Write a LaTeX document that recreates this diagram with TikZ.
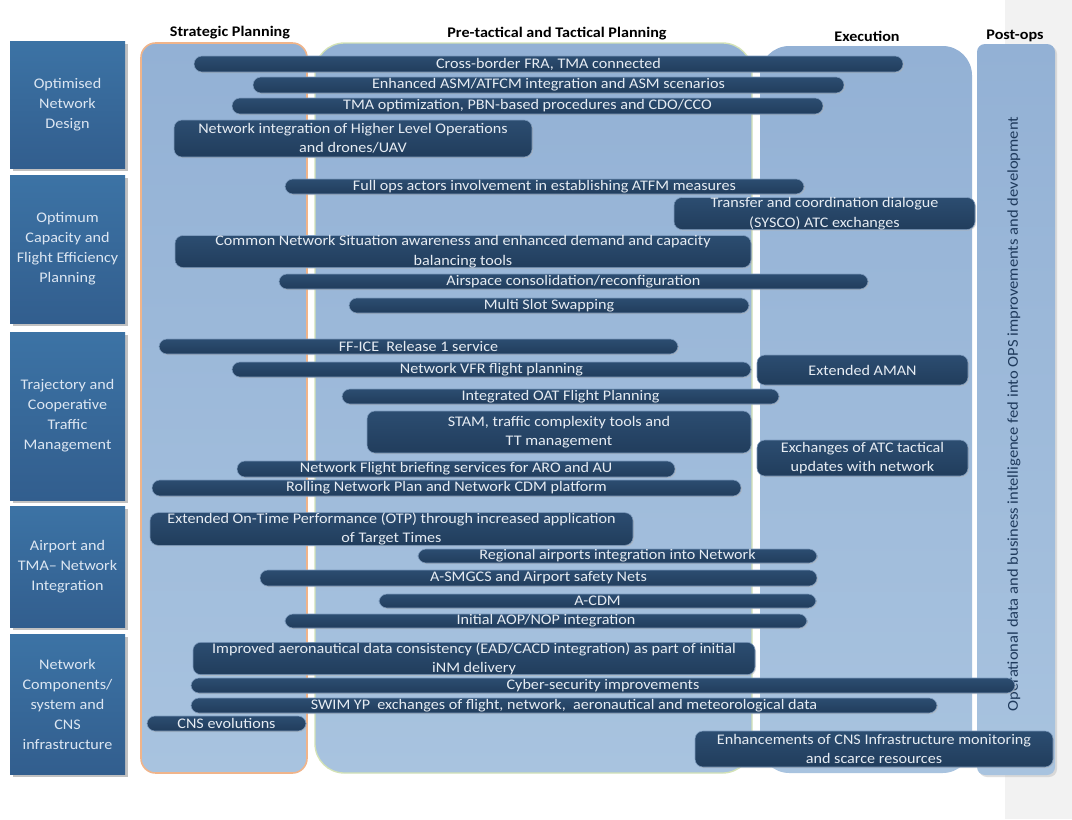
\documentclass[tikz,border=0pt]{standalone}
\usepackage{fontspec}
\setmainfont{Carlito}[FakeStretch=1.1]
\usetikzlibrary{shadows}
\definecolor{panelT}{HTML}{93B1D5}
\definecolor{panelB}{HTML}{A8C3DF}
\definecolor{navyT}{HTML}{2C4D71}
\definecolor{navyB}{HTML}{213D5C}
\definecolor{catT}{HTML}{3C73A5}
\definecolor{catB}{HTML}{325E8E}
\definecolor{cattext}{HTML}{DCE6F2}
\definecolor{bartext}{HTML}{E6ECF3}
\definecolor{barline}{HTML}{7D9BBE}
\definecolor{orangeb}{HTML}{F0B48A}
\definecolor{greenb}{HTML}{D3E2B6}
\definecolor{grayband}{HTML}{F2F2F2}
\definecolor{vtext}{HTML}{1F3A5C}
\newcommand\mybar[6]{\node[barbox,minimum width={0.75pt*(#3-#2)},minimum height={0.75pt*(#5-#4)}] (#1) at ({(#2+#3)/2},{(#4+#5)/2}) {#6};}
\tikzset{
  panel/.style={top color=panelT,bottom color=panelB,inner sep=0pt},
  catbox/.style={top color=catT,bottom color=catB,text=cattext,align=center,inner sep=0pt,
    minimum width=86.25pt,font=\fontsize{11}{15}\selectfont,
    drop shadow={shadow xshift=2pt,shadow yshift=-2pt,fill=black!40,opacity=0.6}},
  barbox/.style={rounded corners=6pt,top color=navyT,bottom color=navyB,draw=barline,line width=0.4pt,
    text=bartext,align=center,inner sep=0pt,font=\fontsize{11}{14.5}\selectfont,
    drop shadow={shadow xshift=0.8pt,shadow yshift=-0.8pt,fill=black!30,opacity=0.5}},
  hdr/.style={font=\bfseries\fontsize{11}{12}\selectfont,text=black,inner sep=0pt}
}
\begin{document}
\begin{tikzpicture}[x=0.75pt,y=-0.75pt]
\useasboundingbox (0,0) rectangle (1072,819);
\fill[white] (0,0) rectangle (1072,819);
\fill[grayband] (1005,0) rectangle (1072,819);
% headers
\node[hdr] (h1) at (230,33) {Strategic Planning};
\node[hdr] (h2) at (557,34) {Pre-tactical and Tactical Planning};
\node[hdr] (h3) at (867,36) {Execution};
\node[hdr] (h4) at (1015,36) {Post-ops};
% panels
\node[panel,draw=orangeb,line width=1.2pt,rounded corners=11pt,minimum width={0.75pt*166},minimum height={0.75pt*730}] (sp) at (224,408) {};
\node[panel,draw=greenb,line width=1pt,rounded corners=22pt,minimum width={0.75pt*437},minimum height={0.75pt*730}] (pt) at (533.5,408) {};
\node[panel,rounded corners=22pt,minimum width={0.75pt*212},minimum height={0.75pt*727}] (ex) at (866,409.5) {};
\node[panel,rounded corners=6pt,minimum width={0.75pt*78},minimum height={0.75pt*731},
  drop shadow={shadow xshift=1.5pt,shadow yshift=-1.5pt,fill=black!25,opacity=0.5}] (po) at (1016,409.5) {};
\node[rotate=90,text=vtext,font=\fontsize{11.3}{13}\selectfont,inner sep=0pt] (vt) at (1014,414)
  {Operational data and business intelligence fed into OPS improvements and development};
% category boxes
\node[catbox,minimum height={0.75pt*127}] (c1) at (67.5,104.5) {Optimised\\Network\\Design};
\node[catbox,minimum height={0.75pt*148}] (c2) at (67.5,249) {Optimum\\Capacity and\\Flight Efficiency\\Planning};
\node[catbox,minimum height={0.75pt*168}] (c3) at (67.5,416) {Trajectory and\\Cooperative\\Traffic\\Management};
\node[catbox,minimum height={0.75pt*121}] (c4) at (67.5,567) {Airport and\\TMA-- Network\\Integration};
\node[catbox,minimum height={0.75pt*140}] (c5) at (67.5,704.5) {Network\\Components/\\system and\\CNS\\infrastructure};
% bars
\mybar{b1}{194}{903}{56}{72}{Cross-border FRA, TMA connected}
\mybar{b2}{253}{844}{77}{93}{Enhanced ASM/ATFCM integration and ASM scenarios}
\mybar{b3}{232}{823}{98}{114}{TMA optimization, PBN-based procedures and CDO/CCO}
\mybar{b4}{174}{532}{120}{157}{Network integration of Higher Level Operations\\and drones/UAV}
\mybar{b5}{285}{804}{179}{194}{Full ops actors involvement in establishing ATFM measures}
\mybar{b6}{674}{975}{198}{229}{Transfer and coordination dialogue\\(SYSCO) ATC exchanges}
\mybar{b7}{175}{751}{236}{267}{Common Network Situation awareness and enhanced demand and capacity\\balancing tools}
\mybar{b8}{279}{868}{274}{289}{Airspace consolidation/reconfiguration}
\mybar{b9}{349}{749}{298}{313}{Multi Slot Swapping}
\mybar{b10}{159}{678}{339}{354}{FF-ICE\ \ Release 1 service}
\mybar{b11}{232}{751}{362}{377}{Network VFR flight planning}
\mybar{b12}{757}{968}{355}{385}{Extended AMAN}
\mybar{b13}{342}{779}{389}{404}{Integrated OAT Flight Planning}
\mybar{b14}{367}{751}{411}{453}{STAM, traffic complexity tools and\\TT management}
\mybar{b15}{757}{968}{440}{476}{Exchanges of ATC tactical\\updates with network}
\mybar{b16}{237}{675}{461}{477}{Network Flight briefing services for ARO and AU}
\mybar{b17}{152}{741}{480}{496}{Rolling Network Plan and Network CDM platform}
\mybar{b18}{150}{633}{513}{545}{Extended On-Time Performance (OTP) through increased application\\of Target Times}
\mybar{b19}{418}{817}{549}{563}{Regional airports integration into Network}
\mybar{b20}{260}{817}{570}{586}{A-SMGCS and Airport safety Nets}
\mybar{b21}{379}{816}{594}{608}{A-CDM}
\mybar{b22}{285}{807}{614}{628}{Initial AOP/NOP integration}
\mybar{b23}{193}{755}{644}{673}{Improved aeronautical data consistency (EAD/CACD integration) as part of initial\\iNM delivery}
\mybar{b24}{191}{1015}{678}{693}{Cyber-security improvements}
\mybar{b25}{191}{937}{698}{713}{SWIM YP\ \ exchanges of flight, network,\ \ aeronautical and meteorological data}
\mybar{b26}{147}{306}{716}{731}{CNS evolutions}
\mybar{b27}{695}{1053}{731}{767}{Enhancements of CNS Infrastructure monitoring\\and scarce resources}
\end{tikzpicture}
\end{document}
